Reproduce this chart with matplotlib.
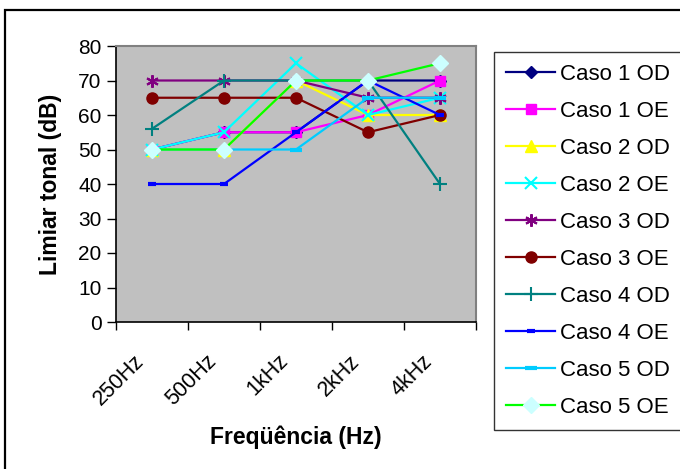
import matplotlib
matplotlib.use("Agg")
import matplotlib.pyplot as plt
from matplotlib.patches import Rectangle
from matplotlib.transforms import ScaledTranslation
import numpy as np

plt.rcParams['font.family'] = ['Liberation Sans', 'DejaVu Sans']

frequencies = ["250Hz", "500Hz", "1kHz", "2kHz", "4kHz"]

caso1_od = [50, 55, 55, 70, 70]
caso1_oe = [50, 55, 55, 60, 70]
caso2_od = [50, 50, 70, 60, 60]
caso2_oe = [50, 55, 75, 60, 65]
caso3_od = [70, 70, 70, 65, 65]
caso3_oe = [65, 65, 65, 55, 60]
caso4_od = [56, 70, 70, 70, 40]
caso4_oe = [40, 40, 55, 70, 60]
caso5_od = [50, 50, 50, 65, 65]
caso5_oe = [50, 50, 70, 70, 75]

series_labels = ["Caso 1 OD", "Caso 1 OE", "Caso 2 OD", "Caso 2 OE", "Caso 3 OD",
                 "Caso 3 OE", "Caso 4 OD", "Caso 4 OE", "Caso 5 OD", "Caso 5 OE"]
series_values = [caso1_od, caso1_oe, caso2_od, caso2_oe, caso3_od,
                 caso3_oe, caso4_od, caso4_oe, caso5_od, caso5_oe]

# line colour, marker, marker face, marker edge, marker size, marker edge width
styles = [
    dict(color="#000080", marker="D", mfc="#000080", mec="#000080", ms=6.5, mew=1),
    dict(color="#FF00FF", marker="s", mfc="#FF00FF", mec="#FF00FF", ms=7, mew=1),
    dict(color="#FFFF00", marker="^", mfc="#FFFF00", mec="#FFFF00", ms=8, mew=1),
    dict(color="#00FFFF", marker="x", mfc="#00FFFF", mec="#00FFFF", ms=9, mew=1.5),
    dict(color="#800080", marker=(6, 2, 0), mfc="#800080", mec="#800080", ms=9, mew=1.5),
    dict(color="#800000", marker="o", mfc="#800000", mec="#800000", ms=8, mew=1),
    dict(color="#008080", marker="+", mfc="#008080", mec="#008080", ms=10, mew=1.5),
    dict(color="#0000FF", marker="_", mfc="#0000FF", mec="#0000FF", ms=6, mew=3),
    dict(color="#00CCFF", marker="_", mfc="#00CCFF", mec="#00CCFF", ms=8, mew=3),
    dict(color="#00FF00", marker="D", mfc="#CCFFFF", mec="#CCFFFF", ms=8.5, mew=1),
]

W, H = 680, 469
fig = plt.figure(figsize=(W / 100, H / 100), dpi=100)
fig.patch.set_facecolor("white")

# outer chart frame (runs past the right and bottom edges)
fig.patches.append(Rectangle((5 / W, -0.1), 1.2, (H - 10) / H + 0.1,
                             transform=fig.transFigure, fill=False,
                             edgecolor="black", lw=1.6, zorder=0))

left, right, top, bottom = 116, 476, 46, 322
ax = fig.add_axes([left / W, 1 - bottom / H, (right - left) / W, (bottom - top) / H])
ax.set_facecolor("#C0C0C0")

x = np.arange(len(frequencies))
handles = []
for lab, vals, st in zip(series_labels, series_values, styles):
    h, = ax.plot(x, vals, color=st["color"], lw=1.6, marker=st["marker"],
                 markerfacecolor=st["mfc"], markeredgecolor=st["mec"],
                 markersize=st["ms"], markeredgewidth=st["mew"], label=lab,
                 clip_on=False)
    handles.append(h)

ax.set_xlim(-0.5, len(frequencies) - 0.5)
ax.set_ylim(0, 80)
ax.set_yticks(np.arange(0, 81, 10))
# tick marks sit on the category boundaries
ax.set_xticks(np.arange(-0.5, len(frequencies), 1.0))
ax.set_xticklabels([])
ax.tick_params(axis="x", length=6, width=1, direction="out")
ax.tick_params(axis="y", length=6.5, width=1, direction="out", labelsize=15, pad=4)

# category names, slanted and centred under each category
label_offset = ScaledTranslation(-11 / 100, -36 / 100, fig.dpi_scale_trans)
for xi, name in zip(x, frequencies):
    ax.text(xi, 0, name, transform=ax.get_xaxis_transform() + label_offset,
            rotation=45, ha="right", va="center", rotation_mode="anchor",
            fontsize=15.5)

for side in ("top", "right"):
    ax.spines[side].set_color("#808080")
    ax.spines[side].set_linewidth(1.5)
for side in ("left", "bottom"):
    ax.spines[side].set_color("black")
    ax.spines[side].set_linewidth(1.2)

ax.set_ylabel("Limiar tonal (dB)", fontsize=16.5, fontweight="bold",
              ha="center", va="center")
ax.yaxis.set_label_coords((50 - left) / (right - left), 0.5)
ax.set_xlabel("Freqüência (Hz)", fontsize=16.5, fontweight="bold",
              ha="center", va="center")
ax.xaxis.set_label_coords(0.5, (bottom - 437) / (bottom - top))

leg = fig.legend(handles=handles, loc="upper left",
                 bbox_to_anchor=(494 / W, 1 - 52 / H), bbox_transform=fig.transFigure,
                 fontsize=16, frameon=True, fancybox=False, edgecolor="black",
                 handlelength=2.2, handletextpad=0.2, labelspacing=0.72,
                 borderpad=0.55, borderaxespad=0)
leg.get_frame().set_linewidth(1.0)

fig.savefig("out.png", dpi=100)
